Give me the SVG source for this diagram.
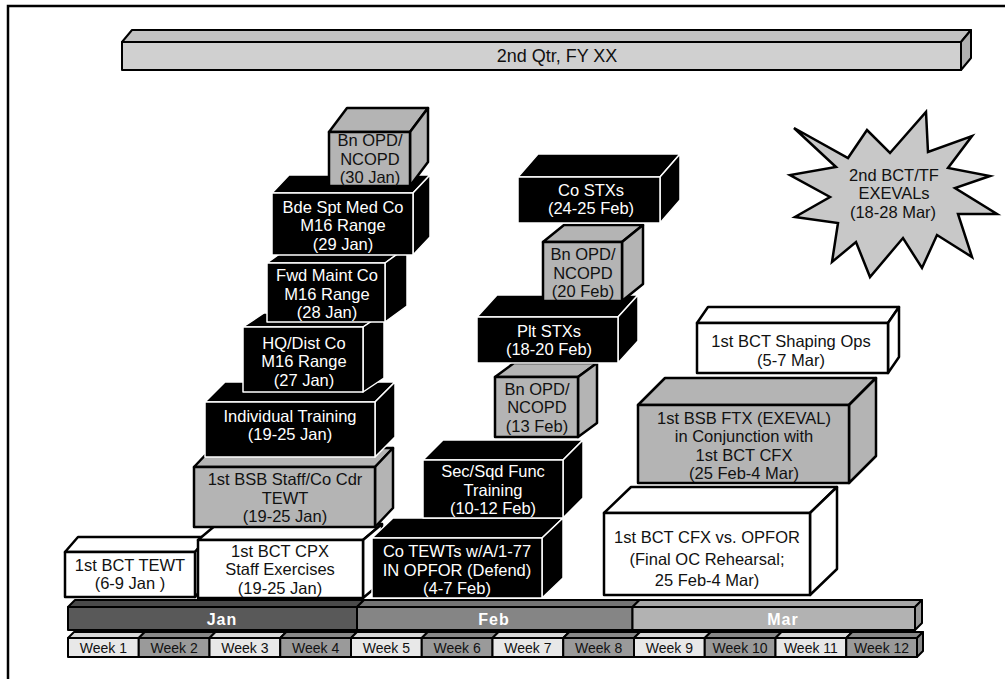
<svg xmlns="http://www.w3.org/2000/svg" width="1005" height="679" viewBox="0 0 1005 679">
<style>
text{font-family:"Liberation Sans",Arial,sans-serif;text-anchor:middle}
.blk polygon,.blk rect{fill:#000;stroke:#fff;stroke-width:1.5;stroke-linejoin:round}
.gry polygon,.gry rect{fill:#b4b4b4;stroke:#000;stroke-width:2.5;stroke-linejoin:round}
.wht polygon,.wht rect{fill:#fff;stroke:#000;stroke-width:2.5;stroke-linejoin:round}
.blk text{fill:#fff;font-size:16.5px}
.gry text,.wht text{fill:#111;font-size:16.5px}
.tl polygon,.tl rect{stroke:#000;stroke-width:2;stroke-linejoin:round}
.mon{fill:#fff;font-size:16px;font-weight:bold;letter-spacing:1px}
.wk{fill:#111;font-size:14px}
.lt{fill:#e8e8e8}.ltt{fill:#d6d6d6}.dk{fill:#9a9a9a}.dkt{fill:#888}
</style>
<rect width="1005" height="679" fill="#fff"/>
<path d="M8,679 V6 H1005" fill="none" stroke="#000" stroke-width="2.5"/>

<g id="quarter-bar" class="tl">
<polygon points="122,42 132,30 971,30 961,42" fill="#c2c2c2"/>
<polygon points="961,42 971,30 971,58 961,70" fill="#b0b0b0"/>
<rect x="122" y="42" width="839" height="28" fill="#d0d0d0" stroke-width="3"/>
<text x="557" y="62" font-size="18" fill="#111">2nd Qtr, FY XX</text>
</g>

<g id="months" class="tl">
<polygon points="68,607 75,600 364,600 357,607" fill="#4a4a4a"/>
<rect x="68" y="607" width="289" height="23" fill="#595959"/>
<polygon points="357,607 364,600 639.5,600 632.5,607" fill="#747474"/>
<rect x="357" y="607" width="275.5" height="23" fill="#858585"/>
<polygon points="632.5,607 639.5,600 922,600 915,607" fill="#a6a6a6"/>
<polygon points="915,607 922,600 922,623 915,630" fill="#999"/>
<rect x="632.5" y="607" width="282.5" height="23" fill="#b2b2b2"/>
<text class="mon" x="222" y="625">Jan</text>
<text class="mon" x="494" y="625">Feb</text>
<text class="mon" x="783" y="625">Mar</text>
</g>

<g id="weeks" class="tl">
<polygon class="ltt" points="68,638 74,632 144.75,632 138.75,638"/><rect class="lt" x="68" y="638" width="70.75" height="19"/>
<polygon class="dkt" points="138.75,638 144.75,632 215.5,632 209.5,638"/><rect class="dk" x="138.75" y="638" width="70.75" height="19"/>
<polygon class="ltt" points="209.5,638 215.5,632 286.25,632 280.25,638"/><rect class="lt" x="209.5" y="638" width="70.75" height="19"/>
<polygon class="dkt" points="280.25,638 286.25,632 357,632 351,638"/><rect class="dk" x="280.25" y="638" width="70.75" height="19"/>
<polygon class="ltt" points="351,638 357,632 427.75,632 421.75,638"/><rect class="lt" x="351" y="638" width="70.75" height="19"/>
<polygon class="dkt" points="421.75,638 427.75,632 498.5,632 492.5,638"/><rect class="dk" x="421.75" y="638" width="70.75" height="19"/>
<polygon class="ltt" points="492.5,638 498.5,632 569.25,632 563.25,638"/><rect class="lt" x="492.5" y="638" width="70.75" height="19"/>
<polygon class="dkt" points="563.25,638 569.25,632 640,632 634,638"/><rect class="dk" x="563.25" y="638" width="70.75" height="19"/>
<polygon class="ltt" points="634,638 640,632 710.75,632 704.75,638"/><rect class="lt" x="634" y="638" width="70.75" height="19"/>
<polygon class="dkt" points="704.75,638 710.75,632 781.5,632 775.5,638"/><rect class="dk" x="704.75" y="638" width="70.75" height="19"/>
<polygon class="ltt" points="775.5,638 781.5,632 852.25,632 846.25,638"/><rect class="lt" x="775.5" y="638" width="70.75" height="19"/>
<polygon class="dkt" points="846.25,638 852.25,632 923,632 917,638"/><polygon class="dkt" points="917,638 923,632 923,651 917,657"/><rect class="dk" x="846.25" y="638" width="70.75" height="19"/>
<text class="wk" x="103.4" y="653">Week 1</text>
<text class="wk" x="174.1" y="653">Week 2</text>
<text class="wk" x="244.9" y="653">Week 3</text>
<text class="wk" x="315.6" y="653">Week 4</text>
<text class="wk" x="386.4" y="653">Week 5</text>
<text class="wk" x="457.1" y="653">Week 6</text>
<text class="wk" x="527.9" y="653">Week 7</text>
<text class="wk" x="598.6" y="653">Week 8</text>
<text class="wk" x="669.4" y="653">Week 9</text>
<text class="wk" x="740.1" y="653">Week 10</text>
<text class="wk" x="810.9" y="653">Week 11</text>
<text class="wk" x="881.6" y="653">Week 12</text>
</g>

<g id="b1" class="wht">
<polygon points="65,552 78,537 208,537 195,552"/><polygon points="195,552 208,537 208,582 195,597"/>
<rect x="65" y="552" width="130" height="45"/>
<text><tspan x="130" y="570.75">1st BCT TEWT</tspan><tspan x="130" y="589.25">(6-9 Jan )</tspan></text>
</g>
<g id="b2" class="wht">
<polygon points="198,540 217,524 382,524 363,540"/><polygon points="363,540 382,524 382,582 363,598"/>
<rect x="198" y="540" width="165" height="58"/>
<text><tspan x="280" y="556.5">1st BCT CPX</tspan><tspan x="280" y="575">Staff Exercises</tspan><tspan x="280" y="593.5">(19-25 Jan)</tspan></text>
</g>
<g id="b3" class="gry">
<polygon points="194,467 212,448 393,448 375,467"/><polygon points="375,467 393,448 393,508 375,527"/>
<rect x="194" y="467" width="181" height="60"/>
<text><tspan x="285" y="485">1st BSB Staff/Co Cdr</tspan><tspan x="285" y="503.5">TEWT</tspan><tspan x="285" y="522">(19-25 Jan)</tspan></text>
</g>
<g id="b4" class="blk">
<polygon points="205,402 225,382 395,382 375,402"/><polygon points="375,402 395,382 395,437 375,457"/>
<rect x="205" y="402" width="170" height="55"/>
<text><tspan x="290" y="421.75">Individual Training</tspan><tspan x="290" y="440.25">(19-25 Jan)</tspan></text>
</g>
<g id="b5" class="blk">
<polygon points="243,327 264,313 384,313 363,327"/><polygon points="363,327 384,313 384,378 363,392"/>
<rect x="243" y="327" width="120" height="65"/>
<text><tspan x="304" y="348.5">HQ/Dist Co</tspan><tspan x="304" y="367">M16 Range</tspan><tspan x="304" y="385.5">(27 Jan)</tspan></text>
</g>
<g id="b6" class="blk">
<polygon points="267,263 289,247 407,247 385,263"/><polygon points="385,263 407,247 407,306 385,322"/>
<rect x="267" y="263" width="118" height="59"/>
<text><tspan x="327" y="281">Fwd Maint Co</tspan><tspan x="327" y="299.5">M16 Range</tspan><tspan x="327" y="318">(28 Jan)</tspan></text>
</g>
<g id="b7" class="blk">
<polygon points="272,193 289,175 430,175 413,193"/><polygon points="413,193 430,175 430,237 413,255"/>
<rect x="272" y="193" width="141" height="62"/>
<text><tspan x="343" y="212.5">Bde Spt Med Co</tspan><tspan x="343" y="231">M16 Range</tspan><tspan x="343" y="249.5">(29 Jan)</tspan></text>
</g>
<g id="b8" class="gry">
<polygon points="329,132 347,108 428,108 410,132"/><polygon points="410,132 428,108 428,162 410,186"/>
<rect x="329" y="132" width="81" height="54"/>
<text><tspan x="370" y="146">Bn OPD/</tspan><tspan x="370" y="164.5">NCOPD</tspan><tspan x="370" y="183">(30 Jan)</tspan></text>
</g>

<g id="m1" class="blk">
<polygon points="372,538 393,518 563,518 542,538"/><polygon points="542,538 563,518 563,578 542,598"/>
<rect x="372" y="538" width="170" height="60"/>
<text><tspan x="457" y="557">Co TEWTs w/A/1-77</tspan><tspan x="457" y="575.5">IN OPFOR (Defend)</tspan><tspan x="457" y="594">(4-7 Feb)</tspan></text>
</g>
<g id="m2" class="blk">
<polygon points="423,460 443,440 583,440 563,460"/><polygon points="563,460 583,440 583,498 563,518"/>
<rect x="423" y="460" width="140" height="58"/>
<text><tspan x="493" y="477">Sec/Sqd Func</tspan><tspan x="493" y="495.5">Training</tspan><tspan x="493" y="514">(10-12 Feb)</tspan></text>
</g>
<g id="m3" class="gry">
<polygon points="495,377 514,363 597,363 578,377"/><polygon points="578,377 597,363 597,423 578,437"/>
<rect x="495" y="377" width="83" height="60"/>
<text><tspan x="537" y="394.5">Bn OPD/</tspan><tspan x="537" y="413">NCOPD</tspan><tspan x="537" y="431.5">(13 Feb)</tspan></text>
</g>
<g id="m4" class="blk">
<polygon points="477,317 497,295 638,295 618,317"/><polygon points="618,317 638,295 638,341 618,363"/>
<rect x="477" y="317" width="141" height="46"/>
<text><tspan x="549" y="336.5">Plt STXs</tspan><tspan x="549" y="355">(18-20 Feb)</tspan></text>
</g>
<g id="m5" class="gry">
<polygon points="543,242 564,225 643,225 622,242"/><polygon points="622,242 643,225 643,284 622,301"/>
<rect x="543" y="242" width="79" height="59"/>
<text><tspan x="583" y="260">Bn OPD/</tspan><tspan x="583" y="278.5">NCOPD</tspan><tspan x="583" y="297">(20 Feb)</tspan></text>
</g>
<g id="m6" class="blk">
<polygon points="518,177 538,154 680,154 660,177"/><polygon points="660,177 680,154 680,200 660,223"/>
<rect x="518" y="177" width="142" height="46"/>
<text><tspan x="591" y="195.75">Co STXs</tspan><tspan x="591" y="214.25">(24-25 Feb)</tspan></text>
</g>

<g id="r1" class="wht">
<polygon points="604,513 631,487 837,487 810,513"/><polygon points="810,513 837,487 837,569 810,595"/>
<rect x="604" y="513" width="206" height="82"/>
<text><tspan x="707" y="543">1st BCT CFX vs. OPFOR</tspan><tspan x="707" y="564.5">(Final OC Rehearsal;</tspan><tspan x="707" y="585.5">25 Feb-4 Mar)</tspan></text>
</g>
<g id="r2" class="gry">
<polygon points="638,405 665,378 876,378 849,405"/><polygon points="849,405 876,378 876,456 849,483"/>
<rect x="638" y="405" width="211" height="78"/>
<text><tspan x="744" y="423.75">1st BSB FTX (EXEVAL)</tspan><tspan x="744" y="442.25">in Conjunction with</tspan><tspan x="744" y="460.75">1st BCT CFX</tspan><tspan x="744" y="479.25">(25 Feb-4 Mar)</tspan></text>
</g>
<g id="r3" class="wht">
<polygon points="697,323 708,307 899,307 888,323"/><polygon points="888,323 899,307 899,357 888,373"/>
<rect x="697" y="323" width="191" height="50"/>
<text><tspan x="791" y="347">1st BCT Shaping Ops</tspan><tspan x="791" y="365.5">(5-7 Mar)</tspan></text>
</g>

<g id="starburst">
<polygon points="794,128 848,158 867,130 890,153 926,112 928,152 972,136 948,168 990,176 955,188 997,214 958,214 972,257 937,235 922,268 903,238 870,277 856,242 832,262 838,223 795,217 830,197 790,175 836,167" fill="#c8c8c8" stroke="#000" stroke-width="2.5" stroke-linejoin="miter"/>
<text font-size="16.5" fill="#111"><tspan x="894" y="180.5">2nd BCT/TF</tspan><tspan x="894" y="199">EXEVALs</tspan><tspan x="893" y="217.5">(18-28 Mar)</tspan></text>
</g>
</svg>
